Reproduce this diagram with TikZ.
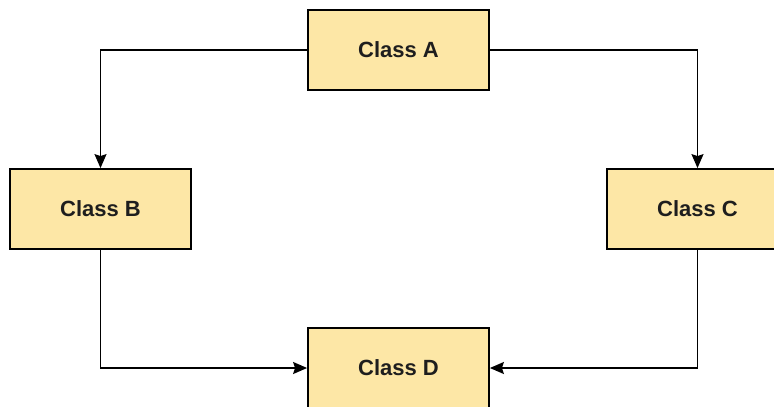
\documentclass[tikz,border=0pt]{standalone}
\usepackage{fontspec}
\setmainfont{Liberation Sans}
\usepackage{tikz}
\usetikzlibrary{arrows.meta}

\definecolor{classfill}{RGB}{253,231,166}
\definecolor{classtext}{RGB}{30,30,30}

\begin{document}
\begin{tikzpicture}
[x=1pt,y=-1pt
,cls/.style={rectangle,draw=black,line width=1.8pt,fill=classfill,
  minimum width=181pt,minimum height=80pt,inner sep=0pt,
  text=classtext,font=\fontsize{22}{24}\selectfont\bfseries}
,ce/.style={line width=1.6pt,arrows={-Stealth[length=14pt,width=12pt,inset=2pt]}}
]
\useasboundingbox (0,0) rectangle (774,407);
\node[cls] (ca) at (398.5,50) {Class A};
\node[cls] (cb) at (100.5,209) {Class B};
\node[cls] (cc) at (697.5,209) {Class C};
\node[cls] (cd) at (398.5,368) {Class D};

\draw[ce] (ca.west) -| (cb.north);
\draw[ce] (ca.east) -| (cc.north);
\draw[ce] (cb.south) |- (cd.west);
\draw[ce] (cc.south) |- (cd.east);
\end{tikzpicture}
\end{document}
